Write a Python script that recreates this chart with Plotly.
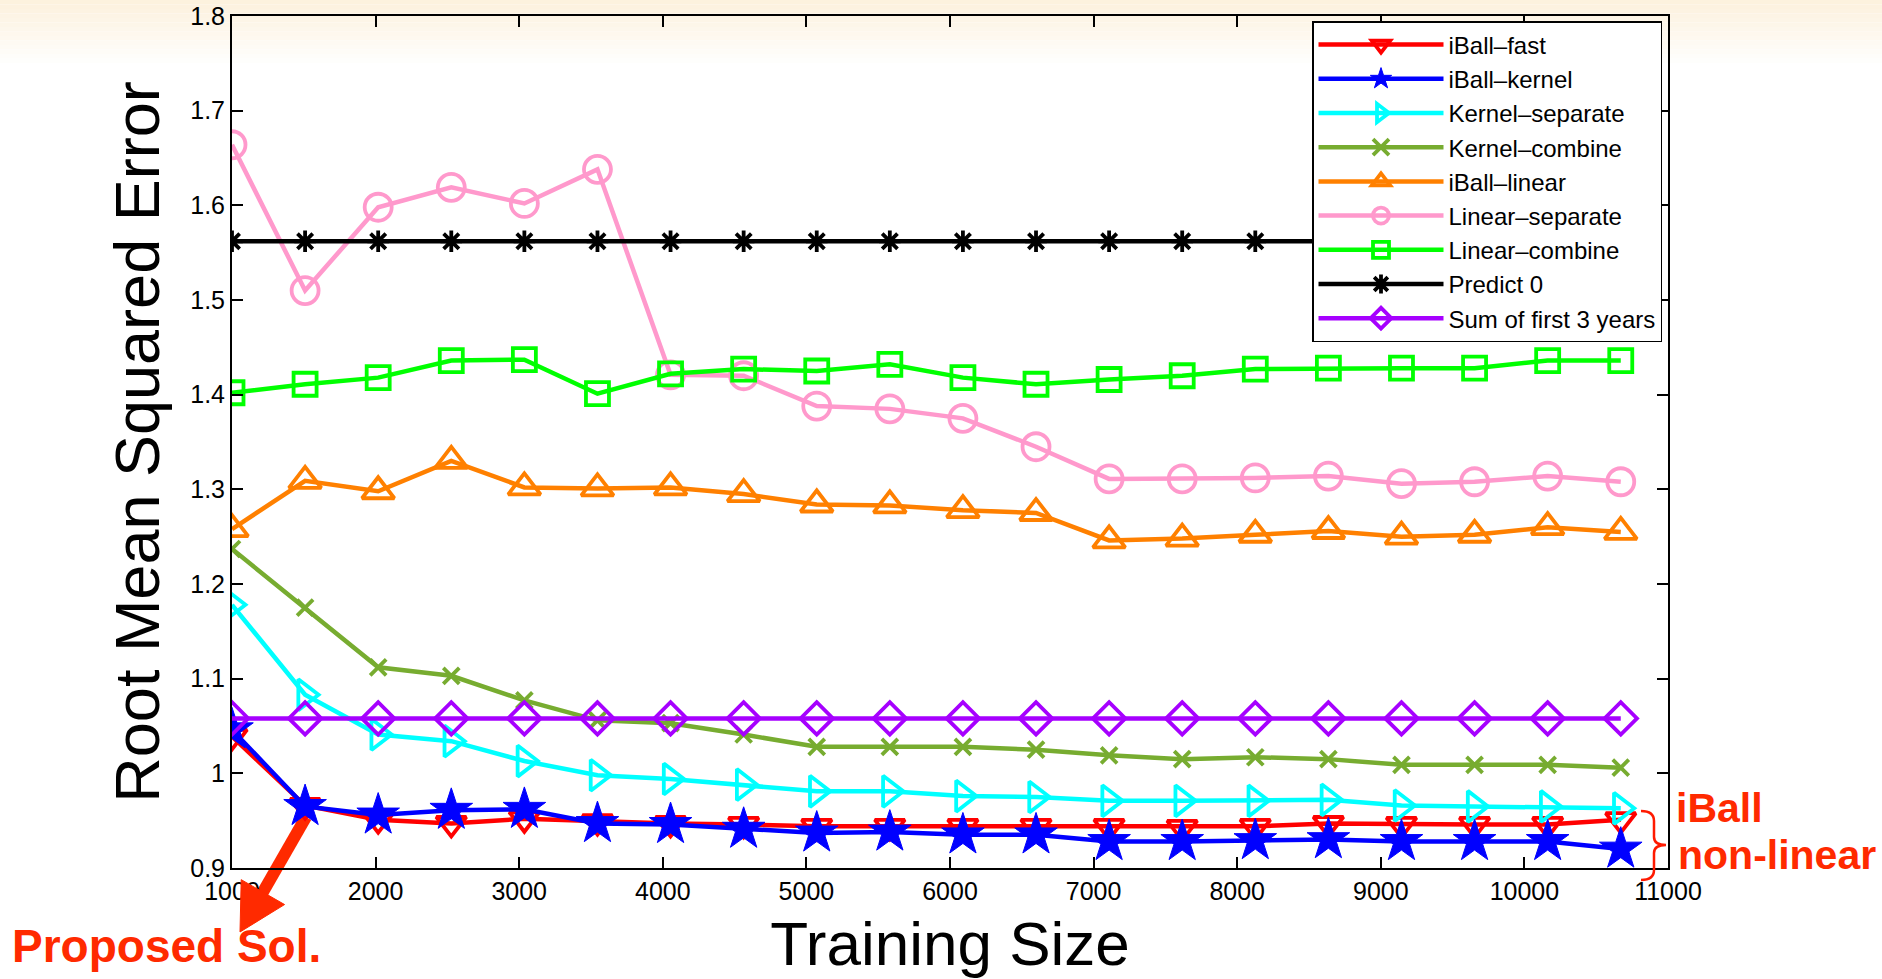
import plotly.graph_objects as go

training_size = [1000, 1509, 2018, 2527, 3036, 3545, 4054, 4563, 5072, 5581,
                 6090, 6599, 7108, 7617, 8126, 8635, 9144, 9653, 10162, 10671]

iball_fast = [1.039, 0.966, 0.951, 0.947, 0.952, 0.949, 0.947, 0.946, 0.944, 0.944,
              0.944, 0.944, 0.944, 0.943, 0.944, 0.947, 0.946, 0.946, 0.946, 0.951]
iball_kernel = [1.046, 0.965, 0.956, 0.961, 0.962, 0.947, 0.946, 0.941, 0.937, 0.938,
                0.935, 0.935, 0.928, 0.928, 0.929, 0.930, 0.928, 0.928, 0.928, 0.920]
kernel_separate = [1.178, 1.083, 1.041, 1.034, 1.013, 0.998, 0.994, 0.988, 0.981, 0.981,
                   0.976, 0.975, 0.971, 0.971, 0.971, 0.972, 0.966, 0.965, 0.965, 0.963]
kernel_combine = [1.237, 1.175, 1.112, 1.103, 1.077, 1.056, 1.053, 1.041, 1.028, 1.028,
                  1.028, 1.025, 1.019, 1.015, 1.017, 1.015, 1.009, 1.009, 1.009, 1.006]
iball_linear = [1.258, 1.309, 1.298, 1.330, 1.302, 1.301, 1.302, 1.295, 1.284, 1.283,
                1.278, 1.275, 1.246, 1.248, 1.252, 1.256, 1.250, 1.252, 1.260, 1.255]
linear_separate = [1.664, 1.510, 1.598, 1.619, 1.602, 1.638, 1.421, 1.420, 1.388, 1.385,
                   1.375, 1.345, 1.311, 1.311, 1.312, 1.314, 1.306, 1.308, 1.314, 1.308]
linear_combine = [1.402, 1.411, 1.418, 1.436, 1.437, 1.401, 1.422, 1.427, 1.425, 1.432,
                  1.418, 1.411, 1.416, 1.420, 1.427, 1.428, 1.428, 1.428, 1.436, 1.436]
predict_0 = [1.562] * 20
sum_first_3_years = [1.058] * 20

series_names = ["iBall\u2013fast", "iBall\u2013kernel", "Kernel\u2013separate", "Kernel\u2013combine",
                "iBall\u2013linear", "Linear\u2013separate", "Linear\u2013combine", "Predict 0",
                "Sum of first 3 years"]
series_values = [iball_fast, iball_kernel, kernel_separate, kernel_combine, iball_linear,
                 linear_separate, linear_combine, predict_0, sum_first_3_years]

x_tick_vals = [1000, 2000, 3000, 4000, 5000, 6000, 7000, 8000, 9000, 10000, 11000]
x_tick_text = ["1000", "2000", "3000", "4000", "5000", "6000", "7000", "8000", "9000", "10000", "11000"]
y_tick_vals = [0.9, 1.0, 1.1, 1.2, 1.3, 1.4, 1.5, 1.6, 1.7, 1.8]
y_tick_text = ["0.9", "1", "1.1", "1.2", "1.3", "1.4", "1.5", "1.6", "1.7", "1.8"]

# styles
colors = ["#ff0000", "#0000ff", "#00ffff", "#77ac30", "#ff8000", "#ff99cc", "#00ff00", "#000000", "#a600ff"]
symbols = ["triangle-down-open", "star", "triangle-right-open", "x-thin", "triangle-up-open",
           "circle-open", "square-open", "asterisk", "diamond-open"]
sizes = [26, 32, 27, 16, 28, 27, 23, 18, 25]

W, H = 1882, 979
ML, MR, MT, MB = 232, 214, 16, 111
PW, PH = W - ML - MR, H - MT - MB


def px(x):
    return (x - ML) / PW


def py(y):
    return (H - MB - y) / PH


fig = go.Figure()
for name, vals, c, s, sz in zip(series_names, series_values, colors, symbols, sizes):
    filled = s == "star"
    fig.add_trace(go.Scatter(
        x=training_size, y=vals, name=name, mode="lines+markers",
        line=dict(color=c, width=4.5),
        marker=dict(symbol=s, size=sz, color=c,
                    line=dict(color=c, width=1 if filled else 3.8)),
    ))

shapes = []
# background gradient at top of slide
top_col = (253, 242, 222)
n_strips = 14
for i in range(n_strips):
    t = i / n_strips
    r = int(top_col[0] + (255 - top_col[0]) * t)
    g = int(top_col[1] + (255 - top_col[1]) * t)
    b = int(top_col[2] + (255 - top_col[2]) * t)
    y0 = i * 4.5
    shapes.append(dict(type="rect", xref="paper", yref="paper", layer="below",
                       x0=px(0), x1=px(W), y0=py(y0 + 4.6), y1=py(y0),
                       fillcolor=f"rgb({r},{g},{b})", line=dict(width=0)))

# arrow for "Proposed Sol."
tail = (306, 817)
tip = (240, 932)
dx, dy = tip[0] - tail[0], tip[1] - tail[1]
L = (dx ** 2 + dy ** 2) ** 0.5
ux, uy = dx / L, dy / L
hl, hw = 46, 25
bx, by = tip[0] - hl * ux, tip[1] - hl * uy
pxv, pyv = -uy, ux
w1 = (bx + hw * pxv, by + hw * pyv)
w2 = (bx - hw * pxv, by - hw * pyv)
arrow_col = "#ff2a00"
shapes.append(dict(type="line", xref="paper", yref="paper", layer="below",
                   x0=px(tail[0]), y0=py(tail[1]), x1=px(bx + 3 * ux), y1=py(by + 3 * uy),
                   line=dict(color=arrow_col, width=12)))
shapes.append(dict(type="path", xref="paper", yref="paper", layer="above",
                   path=f"M{px(tip[0])},{py(tip[1])} L{px(w1[0])},{py(w1[1])} L{px(w2[0])},{py(w2[1])} Z",
                   fillcolor=arrow_col, line=dict(color=arrow_col, width=1)))

# curly brace
x0b, x1b, x2b = 1641, 1654, 1666
ytop, ymid, ybot = 811, 845, 880
bp = (f"M{px(x0b)},{py(ytop)} Q{px(x1b)},{py(ytop)} {px(x1b)},{py(ytop + 10)} "
      f"L{px(x1b)},{py(ymid - 8)} Q{px(x1b)},{py(ymid)} {px(x2b)},{py(ymid)} "
      f"Q{px(x1b)},{py(ymid)} {px(x1b)},{py(ymid + 8)} "
      f"L{px(x1b)},{py(ybot - 10)} Q{px(x1b)},{py(ybot)} {px(x0b)},{py(ybot)}")
shapes.append(dict(type="path", xref="paper", yref="paper", layer="above",
                   path=bp, line=dict(color="#ff1a00", width=2.5)))

ann_font = dict(family="Liberation Sans, Arial, sans-serif", size=41, color="#ff2a00", weight="bold")
annotations = [
    dict(text="Proposed Sol.", xref="paper", yref="paper", x=px(10), y=py(946),
         xanchor="left", yanchor="middle", showarrow=False,
         font=dict(family="Liberation Sans, Arial, sans-serif", size=46, color="#ff2a00", weight="bold")),
    dict(text="iBall", xref="paper", yref="paper", x=px(1674), y=py(808),
         xanchor="left", yanchor="middle", showarrow=False, font=ann_font),
    dict(text="non-linear", xref="paper", yref="paper", x=px(1676), y=py(855),
         xanchor="left", yanchor="middle", showarrow=False, font=ann_font),
]

axis_common = dict(showline=True, linecolor="black", linewidth=2, mirror="ticks",
                   ticks="inside", ticklen=11, tickwidth=1.5, tickcolor="black",
                   showgrid=False, zeroline=False,
                   tickfont=dict(family="Liberation Sans, Arial, sans-serif", size=25, color="black"))

fig.update_layout(
    width=W, height=H,
    margin=dict(l=ML, r=MR, t=MT, b=MB, autoexpand=False),
    paper_bgcolor="white", plot_bgcolor="rgba(0,0,0,0)",
    font=dict(family="Liberation Sans, Arial, sans-serif", color="black"),
    xaxis=dict(range=[1000, 11000], tickvals=x_tick_vals, ticktext=x_tick_text,
               title=dict(text="Training Size", font=dict(size=62), standoff=18),
               automargin=False, **axis_common),
    yaxis=dict(range=[0.9, 1.8], tickvals=y_tick_vals, ticktext=y_tick_text,
               title=dict(text="Root Mean Squared Error", font=dict(size=63), standoff=10),
               automargin=False, **axis_common),
    legend=dict(x=px(1662), y=py(21), xanchor="right", yanchor="top",
                bgcolor="white", bordercolor="black", borderwidth=1.5,
                font=dict(size=24, color="black"), itemwidth=125,
                tracegroupgap=0),
    showlegend=True,
    shapes=shapes,
    annotations=annotations,
)

fig.write_html("out.html")
